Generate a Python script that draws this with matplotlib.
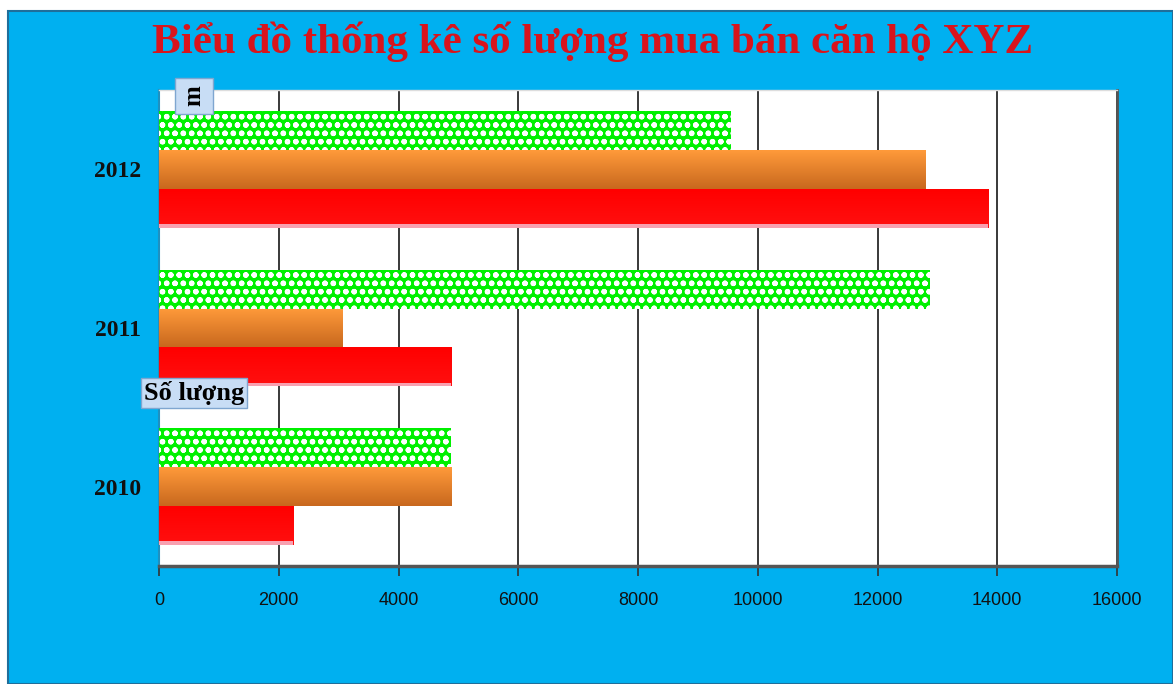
import matplotlib
matplotlib.use("Agg")
import matplotlib.pyplot as plt
import numpy as np
from matplotlib.patches import Rectangle

years = ["2010", "2011", "2012"]
series_green = [4880, 12880, 9550]
series_orange = [4890, 3070, 12800]
series_red = [2240, 4880, 13850]
x_ticks = [0, 2000, 4000, 6000, 8000, 10000, 12000, 14000, 16000]
title = "Biểu đồ thống kê số lượng mua bán căn hộ XYZ"
x_axis_title = "Số lượng"

W, H = 1173, 684
fig = plt.figure(figsize=(W / 100, H / 100), dpi=100)
fig.patch.set_facecolor("white")

# blue chart background
bg = Rectangle((8 / W, 0), 1 - 8 / W, 1 - 11 / H, transform=fig.transFigure,
               facecolor="#00B0F0", edgecolor="#1F6E9A", linewidth=1.5, zorder=-5)
fig.patches.append(bg)

ax = fig.add_axes([159 / W, 1 - 566 / H, 958 / W, 476 / H])
ax.set_zorder(2)
ax.set_facecolor("white")

ypos = np.arange(len(years))
h = 0.245

def gradient_bars(ax, y, vals, top_col, bot_col, zorder=3):
    bars = ax.barh(y, vals, height=h, color=top_col, edgecolor="none", zorder=zorder)
    grad = np.linspace(0, 1, 64).reshape(-1, 1)
    c1 = np.array(matplotlib.colors.to_rgb(top_col))
    c2 = np.array(matplotlib.colors.to_rgb(bot_col))
    img = c1[None, None, :] * (1 - grad[:, :, None]) + c2[None, None, :] * grad[:, :, None]
    for b in bars:
        x0, y0 = b.get_x(), b.get_y()
        w_, h_ = b.get_width(), b.get_height()
        im = ax.imshow(img, extent=(x0, x0 + w_, y0, y0 + h_), origin="upper",
                       aspect="auto", zorder=zorder + 0.1, interpolation="bilinear")
        im.set_clip_path(b)
    return bars

# red (bottom), orange (middle), green hatched (top)
gradient_bars(ax, ypos - h, series_red, "#FF0000", "#FF1010")
for yv, v in zip(ypos - h, series_red):
    ax.barh(yv - h / 2 + 0.012, v, height=0.024, color="#F8A0B0", edgecolor="none", zorder=3.5)
gradient_bars(ax, ypos, series_orange, "#FF9A3A", "#C8681E")

plt.rcParams["hatch.linewidth"] = 1.6
ax.barh(ypos + h, series_green, height=h, color="#00F000", edgecolor="white",
        hatch="oo", linewidth=0, zorder=3)

ax.set_xlim(0, 16000)
ax.set_ylim(-0.5, 2.5)

ax.set_xticks(x_ticks)
ax.set_xticklabels([str(t) for t in x_ticks], fontsize=13, family="Liberation Sans",
                   color="#111111")
ax.set_yticks(ypos)
ax.set_yticklabels(years, fontsize=17, family="Liberation Serif", fontweight="bold",
                   color="#111111")
ax.tick_params(axis="x", length=7, width=1.2, color="#333333", pad=12, direction="out")
ax.tick_params(axis="y", length=0, pad=13)
ax.xaxis.grid(True, color="#2A2A2A", linewidth=1.3, zorder=1)
ax.set_axisbelow(True)

ax.spines["top"].set_color("#DDDDDD")
ax.spines["top"].set_linewidth(1)
ax.spines["left"].set_color("#1F90C0")
ax.spines["left"].set_linewidth(1.5)
ax.spines["right"].set_color("#555555")
ax.spines["right"].set_linewidth(2)
ax.spines["bottom"].set_color("#555555")
ax.spines["bottom"].set_linewidth(2.5)

fig.text(593 / W, 1 - 42 / H, title, ha="center", va="center", fontsize=31,
         family="Liberation Serif", fontweight="bold", color="#D8141C")

# cut-off axis title boxes
fig.text(194 / W, 1 - 393 / H, x_axis_title, ha="center", va="center", fontsize=19,
         family="Liberation Serif", fontweight="bold", color="black", zorder=10,
         bbox=dict(boxstyle="square,pad=0.1", facecolor="#C8DDF5", edgecolor="#7FA6D0",
                   linewidth=1))
fig.text(194 / W, 1 - 96 / H, "m", ha="center", va="center", fontsize=18,
         family="Liberation Serif", fontweight="bold", rotation=90, color="black",
         bbox=dict(boxstyle="square,pad=0.3", facecolor="#C8DDF5", edgecolor="#7FA6D0",
                   linewidth=1), zorder=10)

fig.savefig("out.png", dpi=100, facecolor=fig.get_facecolor())
